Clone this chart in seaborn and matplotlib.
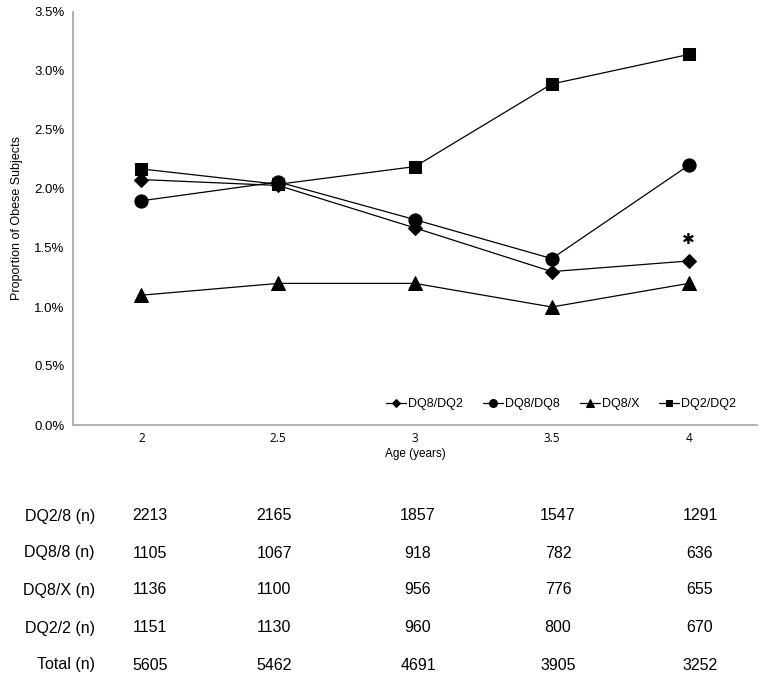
import matplotlib
matplotlib.use("Agg")
import matplotlib.pyplot as plt
import seaborn as sns
import pandas as pd
from matplotlib.ticker import FuncFormatter

ages = ["2", "2.5", "3", "3.5", "4"]
dq8_dq2 = [2.08, 2.03, 1.67, 1.30, 1.39]
dq8_dq8 = [1.90, 2.06, 1.74, 1.41, 2.20]
dq8_x = [1.10, 1.20, 1.20, 1.00, 1.20]
dq2_dq2 = [2.17, 2.04, 2.19, 2.89, 3.14]
series_names = ["DQ8/DQ2", "DQ8/DQ8", "DQ8/X", "DQ2/DQ2"]

row_labels = ["DQ2/8 (n)", "DQ8/8 (n)", "DQ8/X (n)", "DQ2/2 (n)", "Total (n)"]
n_dq28 = [2213, 2165, 1857, 1547, 1291]
n_dq88 = [1105, 1067, 918, 782, 636]
n_dq8x = [1136, 1100, 956, 776, 655]
n_dq22 = [1151, 1130, 960, 800, 670]
n_total = [5605, 5462, 4691, 3905, 3252]

rows = []
for name, vals in zip(series_names, [dq8_dq2, dq8_dq8, dq8_x, dq2_dq2]):
    for i, (a, v) in enumerate(zip(ages, vals)):
        rows.append({"pos": i, "age": a, "value": v, "series": name})
df = pd.DataFrame(rows)

sns.set_theme(style="white")
plt.rcParams["font.family"] = ["Liberation Sans", "DejaVu Sans"]
plt.rcParams["text.color"] = "black"
plt.rcParams["axes.labelcolor"] = "black"

W, H = 764, 681
fig = plt.figure(figsize=(W / 100, H / 100), dpi=100)
ax = fig.add_axes([73 / W, 1 - 425 / H, (757 - 73) / W, (425 - 12) / H])

markers = {"DQ8/DQ2": "D", "DQ8/DQ8": "o", "DQ8/X": "^", "DQ2/DQ2": "s"}
sizes = {"DQ8/DQ2": 7, "DQ8/DQ8": 9.5, "DQ8/X": 10, "DQ2/DQ2": 8}
for name in series_names:
    sub = df[df["series"] == name]
    sns.lineplot(data=sub, x="pos", y="value", ax=ax, color="black",
                 marker=markers[name], markersize=sizes[name], linewidth=0.9,
                 markeredgecolor="black", label=name)

ax.set_xlim(-0.5, 4.5)
ax.set_ylim(0, 3.5)
ax.set_yticks([0, 0.5, 1.0, 1.5, 2.0, 2.5, 3.0, 3.5])
ax.yaxis.set_major_formatter(FuncFormatter(lambda v, p: f"{v:.1f}%"))
ax.set_xticks(range(len(ages)))
ax.set_xticklabels(ages, fontfamily="Open Sans", fontsize=8.5)
ax.tick_params(axis="y", labelsize=9.5, length=0, pad=6, colors="black")
ax.tick_params(axis="x", length=0, pad=5, colors="black")
ax.set_xlabel("Age (years)", fontsize=8.5, labelpad=2)
ax.set_ylabel("Proportion of Obese Subjects", fontsize=9, labelpad=8)

for s in ["top", "right"]:
    ax.spines[s].set_visible(False)
for s in ["left", "bottom"]:
    ax.spines[s].set_color("#a6a6a6")
    ax.spines[s].set_linewidth(1.2)

ax.text(4, 1.57, "\u2731", ha="center", va="center", fontsize=11,
        fontfamily="DejaVu Sans", color="black")

leg = ax.legend(loc="center right", bbox_to_anchor=(0.982, 0.05), ncol=4,
                frameon=False, fontsize=9, handlelength=1.6, handletextpad=0.15,
                columnspacing=1.6, markerscale=0.6, borderpad=0.2)

# table below chart
col_x = [150, 274, 418, 558, 700]
row_y = [516, 553, 590, 628, 665]
for lab, vals, y in zip(row_labels, [n_dq28, n_dq88, n_dq8x, n_dq22, n_total], row_y):
    fig.text(95 / W, 1 - y / H, lab, ha="right", va="center", fontsize=11.5)
    for x, v in zip(col_x, vals):
        fig.text(x / W, 1 - y / H, str(v), ha="center", va="center", fontsize=11.5)

fig.savefig("out.png", dpi=100)
